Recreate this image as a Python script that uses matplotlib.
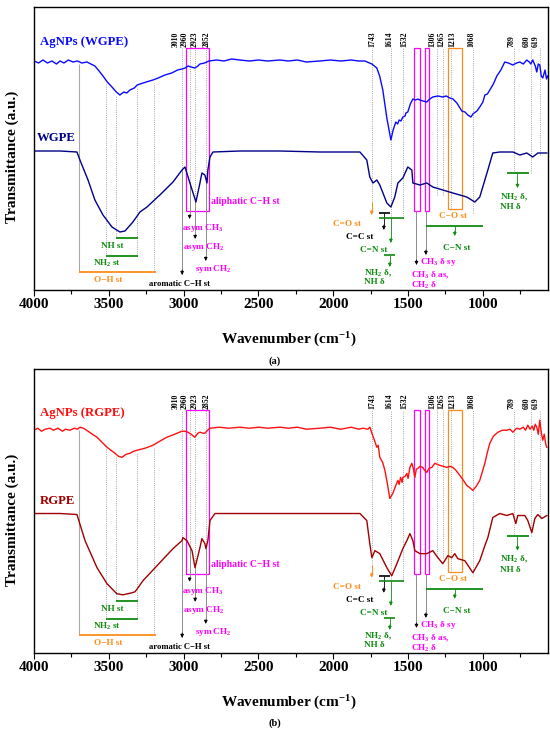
import numpy as np
import matplotlib
matplotlib.use("Agg")
import matplotlib.pyplot as plt
from matplotlib.patches import Rectangle

plt.rcParams['font.family'] = ['Liberation Serif', 'DejaVu Serif']
plt.rcParams['font.weight'] = 'bold'
plt.rcParams['mathtext.fontset'] = 'custom'
plt.rcParams['mathtext.rm'] = 'Liberation Serif:bold'
plt.rcParams['mathtext.it'] = 'Liberation Serif:bold'
plt.rcParams['mathtext.bf'] = 'Liberation Serif:bold'
plt.rcParams['mathtext.default'] = 'rm'

# ---------------- data: (wavenumber cm-1, transmittance a.u.) ----------------
agnps_wgpe = [(4000, 229), (3970, 227), (3940, 230), (3910, 227), (3880, 229), (3850, 226), (3826, 229),
              (3800, 227), (3770, 230), (3740, 228), (3710, 229), (3680, 227), (3646, 228), (3620, 226),
              (3593, 224), (3565, 219), (3539, 214), (3510, 208), (3479, 203), (3450, 198), (3426, 195),
              (3400, 198), (3380, 197), (3359, 200), (3330, 202), (3310, 205), (3292, 206), (3250, 208),
              (3205, 210), (3170, 212), (3125, 215), (3080, 217), (3040, 220), (3011, 221), (2990, 222),
              (2971, 224), (2950, 223), (2925, 222), (2905, 224), (2891, 226), (2860, 227), (2831, 229),
              (2780, 230), (2730, 229), (2680, 231), (2624, 230), (2560, 229), (2500, 230), (2440, 229),
              (2357, 230), (2300, 229), (2240, 230), (2180, 228), (2090, 229), (2020, 230), (1950, 229),
              (1880, 230), (1830, 229), (1789, 229), (1742, 226), (1709, 222), (1690, 214), (1669, 200),
              (1642, 172), (1615, 150), (1600, 160), (1582, 168), (1570, 166), (1560, 170), (1548, 169),
              (1535, 173), (1520, 174), (1515, 177), (1502, 178), (1485, 186), (1468, 191), (1450, 190),
              (1435, 191), (1421, 190), (1400, 189), (1375, 188), (1355, 191), (1335, 193), (1300, 194),
              (1268, 193), (1245, 194), (1221, 192), (1200, 191), (1174, 187), (1141, 179), (1120, 178),
              (1101, 175), (1080, 173), (1067, 176), (1040, 179), (1021, 183), (1000, 188), (987, 195),
              (970, 196), (954, 200), (930, 206), (907, 214), (880, 220), (854, 228), (830, 227),
              (800, 225), (775, 227), (753, 228), (730, 226), (707, 230), (690, 228), (680, 226),
              (667, 230), (650, 224), (640, 218), (630, 226), (620, 225), (610, 214), (600, 212),
              (585, 220), (575, 211), (567, 214)]

wgpe = [(4000, 139), (3826, 139), (3713, 138), (3693, 130), (3639, 110), (3593, 90), (3539, 75), (3479, 63),
        (3426, 58), (3392, 59), (3339, 68), (3292, 78), (3245, 83), (3159, 95), (3071, 108), (3011, 120),
        (2991, 123), (2958, 107), (2918, 88), (2891, 107), (2878, 117), (2858, 115), (2844, 107), (2838, 120),
        (2824, 133), (2804, 138), (2624, 139), (2357, 139), (2090, 138), (1822, 138), (1776, 130), (1756, 113),
        (1735, 107), (1709, 110), (1689, 105), (1642, 87), (1615, 83), (1589, 93), (1568, 107), (1535, 112),
        (1502, 123), (1475, 120), (1468, 107), (1421, 105), (1375, 107), (1335, 103), (1268, 100), (1201, 97),
        (1154, 95), (1108, 93), (1054, 88), (1021, 93), (987, 110), (967, 120), (934, 137), (887, 138),
        (800, 138), (753, 135), (707, 137), (667, 133), (633, 137), (573, 137)]

agnps_rgpe = [(4000, 222), (3975, 224), (3950, 221), (3925, 223), (3893, 224), (3870, 222), (3840, 224),
              (3810, 221), (3790, 223), (3760, 222), (3730, 224), (3710, 223), (3693, 225), (3670, 224),
              (3639, 221), (3610, 218), (3579, 215), (3545, 210), (3512, 205), (3485, 202), (3459, 199),
              (3435, 196), (3412, 195), (3385, 198), (3359, 199), (3335, 201), (3312, 202), (3260, 204),
              (3205, 207), (3160, 211), (3112, 215), (3060, 218), (3011, 221), (2990, 221), (2971, 220),
              (2950, 218), (2925, 215), (2905, 219), (2891, 220), (2870, 219), (2858, 219), (2840, 222),
              (2824, 224), (2760, 225), (2700, 224), (2624, 225), (2560, 224), (2500, 225), (2440, 224),
              (2357, 225), (2300, 224), (2240, 225), (2180, 223), (2090, 224), (2020, 225), (1950, 223),
              (1880, 225), (1830, 223), (1800, 224), (1769, 223), (1755, 225), (1742, 219), (1725, 212),
              (1709, 205), (1700, 207), (1689, 195), (1670, 190), (1655, 182), (1640, 170), (1622, 154),
              (1602, 159), (1585, 166), (1568, 172), (1560, 168), (1550, 175), (1540, 170), (1535, 175),
              (1520, 176), (1508, 179), (1500, 174), (1488, 185), (1475, 189), (1465, 184), (1455, 175),
              (1445, 183), (1435, 184), (1420, 186), (1402, 185), (1390, 182), (1375, 180), (1360, 184),
              (1341, 185), (1321, 189), (1305, 188), (1288, 187), (1265, 186), (1241, 185), (1220, 186),
              (1201, 185), (1180, 182), (1154, 177), (1130, 172), (1108, 167), (1090, 165), (1067, 162),
              (1045, 166), (1021, 172), (1005, 180), (987, 189), (970, 200), (954, 209), (930, 216),
              (900, 220), (870, 222), (840, 222), (820, 223), (800, 220), (775, 224), (753, 223),
              (730, 225), (715, 222), (700, 227), (685, 223), (670, 226), (660, 222), (650, 228),
              (640, 225), (630, 218), (620, 232), (610, 220), (600, 212), (590, 218), (580, 208), (573, 205)]

rgpe = [(4000, 139), (3826, 139), (3713, 138), (3659, 112), (3579, 85), (3512, 69), (3446, 59), (3405, 58),
        (3345, 60), (3325, 61), (3305, 65), (3272, 72), (3159, 90), (3071, 104), (3011, 112), (3005, 115),
        (2978, 112), (2944, 102), (2924, 85), (2891, 105), (2878, 114), (2858, 109), (2851, 104), (2838, 112),
        (2824, 132), (2791, 139), (2624, 139), (2357, 139), (2090, 139), (1822, 139), (1776, 132), (1756, 109),
        (1742, 95), (1722, 102), (1689, 99), (1642, 85), (1609, 77), (1575, 89), (1535, 104), (1508, 112),
        (1488, 119), (1468, 112), (1455, 102), (1421, 99), (1375, 99), (1335, 102), (1301, 95), (1268, 89),
        (1234, 97), (1208, 95), (1188, 99), (1168, 94), (1121, 92), (1067, 80), (1021, 92), (987, 107),
        (967, 115), (934, 135), (887, 139), (840, 137), (800, 139), (780, 129), (767, 137), (720, 137),
        (700, 132), (673, 120), (653, 134), (633, 138), (606, 134), (573, 137)]

peak_labels = ["3010", "2960", "2923", "2852", "1743", "1614", "1532", "1306", "1265", "1213", "1068", "789", "680", "619"]
peak_wn = [3010, 2960, 2923, 2852, 1743, 1614, 1532, 1306, 1265, 1213, 1068, 789, 680, 619]
peak_label_wn = [3053, 2991, 2925, 2846, 1738, 1622, 1528, 1337, 1275, 1203, 1076, 807, 709, 647]

x_ticks = [4000, 3500, 3000, 2500, 2000, 1500, 1000]
x_tick_labels = ["4000", "3500", "3000", "2500", "2000", "1500", "1000"]

GRAY = '#8c8c8c'
MAG = '#ff00ff'
ORG = '#ff8c1a'
GRN = '#108a10'
DOT = (0, (1.0, 1.6))
FS = 6.6


def arrow(ax, x, y0, y1, color, lw=0.6):
    ax.annotate('', xy=(x, y1), xytext=(x, y0),
                arrowprops=dict(arrowstyle='-|>', color=color, lw=lw, mutation_scale=5,
                                shrinkA=0, shrinkB=0))


def txt(ax, x, y, s, color, ha='center', size=FS):
    ax.text(x, y, s, color=color, ha=ha, va='center', fontsize=size, fontweight='bold')


def draw_panel(ax, sample, base, name_s, name_b, c_s, c_b, pos_s, pos_b):
    wn_s, t_s = [np.array(v) for v in zip(*sample)]
    wn_b, t_b = [np.array(v) for v in zip(*base)]
    ax.set_xlim(4000, 565)
    ax.set_ylim(0, 283)
    ax.set_yticks([])
    ax.set_xticks(x_ticks)
    ax.set_xticklabels(x_tick_labels, fontsize=11, fontweight='bold')
    ax.set_xticks(np.arange(3750, 565, -500), minor=True)
    ax.tick_params(axis='x', which='major', direction='out', length=4, width=0.8, pad=2)
    ax.tick_params(axis='x', which='minor', direction='out', length=3, width=0.8)
    for sp in ax.spines.values():
        sp.set_linewidth(1.0)

    s_int = lambda w: np.interp(w, wn_s[::-1], t_s[::-1])
    b_int = lambda w: np.interp(w, wn_b[::-1], t_b[::-1])

    # guide lines, left region
    ax.vlines(3700, 18, s_int(3700) - 2, colors='#a8a8a8', lw=0.8)
    for w, end in [(3520, 34), (3450, 52), (3310, 34), (3200, 18)]:
        ax.vlines(w, end, s_int(w) - 3, colors=GRAY, linestyles=DOT, lw=0.6)
    ax.hlines(52, 3452, 3305, colors=GRN, lw=1.3)
    ax.hlines(34, 3519, 3305, colors=GRN, lw=1.3)
    ax.hlines(18, 3700, 3185, colors=ORG, lw=1.3)
    txt(ax, 3479, 44, 'NH st', GRN)
    txt(ax, 3512, 27, 'NH$_2$ st', GRN)
    txt(ax, 3506, 10, 'O\u2212H st', ORG)

    # peak labels and dotted lines
    dotted_end = {1743: 88, 1614: 72, 1532: 72, 1306: 95, 1265: 95, 1213: 81, 1068: 77,
                  789: 117, 680: 117, 619: 135}
    for lab, w, lw_ in zip(peak_labels, peak_wn, peak_label_wn):
        ax.text(lw_, 243, lab, rotation=90, ha='center', va='bottom', fontsize=5.6,
                fontweight='bold', color='black')
        end = dotted_end.get(w, b_int(w))
        ax.vlines(w, end, 242, colors=GRAY, linestyles=DOT, lw=0.6)

    # aromatic / aliphatic C-H
    ax.vlines(3010, 16, b_int(3010), colors=GRAY, lw=0.7)
    arrow(ax, 3010, 20, 15, 'black')
    for w, end in [(2960, 71), (2923, 51), (2852, 29)]:
        ax.vlines(w, end + 4, b_int(w), colors=GRAY, lw=0.7)
        arrow(ax, w, end + 4, end, 'black')
    ax.add_patch(Rectangle((2985, 79), 2831 - 2985, 163, fill=False, ec=MAG, lw=0.9))
    txt(ax, 2818, 88, 'aliphatic C\u2212H st', MAG, ha='left', size=7.0)
    txt(ax, 2871, 62, 'asym CH$_3$', MAG)
    txt(ax, 2864, 43, 'asym CH$_2$', MAG)
    txt(ax, 2804, 21, 'sym CH$_2$', MAG)
    txt(ax, 3030, 6, 'aromatic C\u2212H st', 'black', size=6.2)

    # right region
    ax.add_patch(Rectangle((1463, 79), 1418 - 1463, 163, fill=False, ec=MAG, lw=0.9))
    ax.add_patch(Rectangle((1388, 79), 1360 - 1388, 163, fill=False, ec=MAG, lw=0.9))
    ax.add_patch(Rectangle((1236, 81), 1139 - 1236, 161, fill=False, ec=ORG, lw=0.9))
    ax.vlines(1444, 29, 79, colors=GRAY, lw=0.7)
    arrow(ax, 1444, 30, 25, 'black')
    ax.vlines(1381, 39, 79, colors=GRAY, lw=0.7)
    arrow(ax, 1381, 40, 35, 'black')
    txt(ax, 1299, 28, 'CH$_3$ \u03b4 sy', MAG)
    txt(ax, 1478, 15, 'CH$_3$ \u03b4 as,', MAG, ha='left')
    txt(ax, 1478, 5, 'CH$_2$ \u03b4', MAG, ha='left')

    ax.vlines(1743, 79, 88, colors=ORG, lw=0.7)
    arrow(ax, 1743, 80, 75, ORG)
    txt(ax, 1911, 66, 'C=O st', ORG)
    ax.hlines(77, 1695, 1622, colors='black', lw=1.2)
    ax.vlines(1662, 64, 77, colors='black', lw=0.6)
    arrow(ax, 1662, 65, 60, 'black')
    txt(ax, 1822, 53, 'C=C st', 'black')
    ax.hlines(72, 1695, 1528, colors=GRN, lw=1.2)
    ax.vlines(1615, 51, 72, colors=GRN, lw=0.6)
    arrow(ax, 1615, 52, 47, GRN)
    txt(ax, 1729, 40, 'C=N st', GRN)
    ax.hlines(35, 1662, 1589, colors=GRN, lw=1.2)
    ax.vlines(1622, 27, 35, colors=GRN, lw=0.6)
    arrow(ax, 1622, 28, 23, GRN)
    txt(ax, 1792, 17, 'NH$_2$ \u03b4,', GRN, ha='left')
    txt(ax, 1792, 8, 'NH \u03b4', GRN, ha='left')

    txt(ax, 1199, 74, 'C\u2212O st', ORG)
    ax.hlines(64, 1383, 999, colors=GRN, lw=1.3)
    ax.vlines(1188, 58, 64, colors=GRN, lw=0.6)
    arrow(ax, 1188, 59, 54, GRN)
    txt(ax, 1174, 42, 'C\u2212N st', GRN)

    ax.hlines(117, 842, 691, colors=GRN, lw=1.3)
    ax.vlines(769, 106, 117, colors=GRN, lw=0.6)
    arrow(ax, 769, 107, 102, GRN)
    txt(ax, 889, 93, 'NH$_2$ \u03b4,', GRN, ha='left')
    txt(ax, 889, 83, 'NH \u03b4', GRN, ha='left')

    # spectra
    ax.plot(wn_s, t_s, color=c_s, lw=1.0)
    ax.plot(wn_b, t_b, color=c_b, lw=1.0)
    ax.text(pos_s[0], pos_s[1], name_s, color=c_s, fontsize=9.2, fontweight='bold', ha='left', va='center')
    ax.text(pos_b[0], pos_b[1], name_b, color=c_b, fontsize=9.2, fontweight='bold', ha='left', va='center')


fig = plt.figure(figsize=(5.5, 7.33), dpi=100)
ax1 = fig.add_axes([34 / 550, (733 - 290) / 733, 514 / 550, 283 / 733])
ax2 = fig.add_axes([34 / 550, (733 - 653) / 733, 514 / 550, 284 / 733])

draw_panel(ax1, agnps_wgpe, wgpe, 'AgNPs (WGPE)', 'WGPE',
           '#0a0aff', '#000088', (3960, 248), (3980, 152))
draw_panel(ax2, agnps_rgpe, rgpe, 'AgNPs (RGPE)', 'RGPE',
           '#ff1010', '#a00000', (3960, 239), (3960, 151))

for yc in [(733 - 157) / 733, (733 - 520) / 733]:
    fig.text(12 / 550, yc, 'Transmittance (a.u.)', rotation=90, ha='center', va='center',
             fontsize=11, fontweight='bold')
fig.text(0.525, (733 - 340) / 733, 'Wavenumber (cm$^{-1}$)', ha='center', va='center', fontsize=11, fontweight='bold')
fig.text(0.5, (733 - 361) / 733, '(a)', ha='center', va='center', fontsize=7.5, fontweight='bold')
fig.text(0.525, (733 - 703) / 733, 'Wavenumber (cm$^{-1}$)', ha='center', va='center', fontsize=11, fontweight='bold')
fig.text(0.5, (733 - 723) / 733, '(b)', ha='center', va='center', fontsize=7.5, fontweight='bold')

fig.savefig('out.png', dpi=100)
